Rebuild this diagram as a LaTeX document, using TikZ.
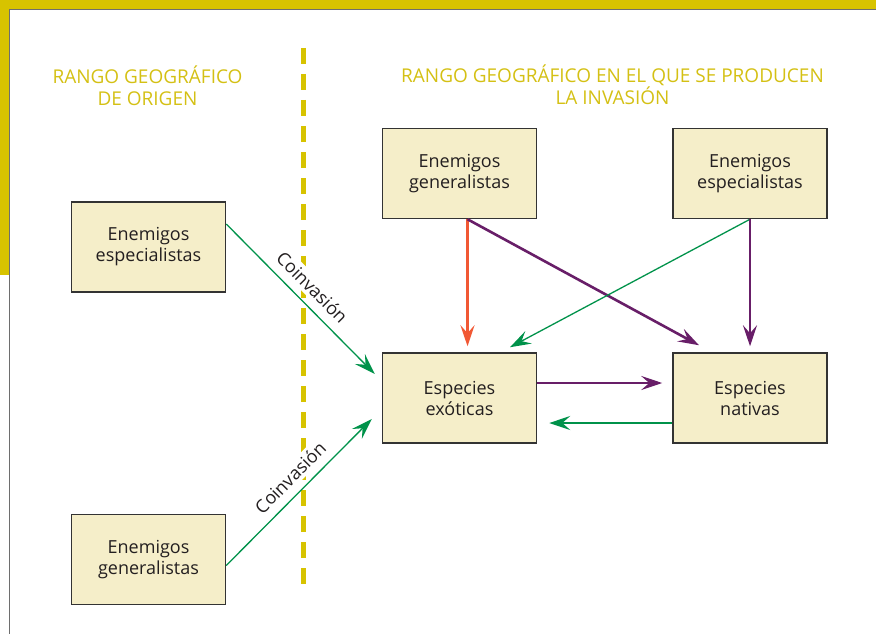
\documentclass[tikz,border=0pt]{standalone}
\usepackage{fontspec}
\setmainfont{Open Sans}
\usetikzlibrary{arrows.meta,positioning,calc}
\definecolor{bandyellow}{RGB}{215,195,0}
\definecolor{titleyellow}{RGB}{212,192,20}
\definecolor{boxfill}{RGB}{245,238,201}
\definecolor{boxline}{RGB}{51,51,51}
\definecolor{textgray}{RGB}{35,31,32}
\definecolor{framegray}{RGB}{110,110,110}
\definecolor{arrowgreen}{RGB}{0,146,74}
\definecolor{arrowpurple}{RGB}{104,30,104}
\definecolor{arrowred}{RGB}{241,88,52}
\tikzset{
    %Define standard arrow tip
    >={Stealth[length=21pt,width=14pt,inset=8pt]},
    %Define style for boxes
    box/.style={
           rectangle,
           draw=boxline, line width=1.5pt,
           minimum width=154pt,
           minimum height=90pt,
           inner sep=0pt,
           font=\fontsize{18}{21}\selectfont,
           text=textgray,
           align=center,
           fill=boxfill},
    title/.style={
           anchor=south,
           inner sep=0pt,
           text depth=0pt,
           font=\fontsize{19}{22}\selectfont,
           text=titleyellow,
           align=center},
    % Define arrow style
    greenline/.style={
           ->,
           draw=arrowgreen,
           line width=1.3pt},
    purpleline/.style={
           ->,
           draw=arrowpurple,
           line width=2.6pt},
    redline/.style={
           ->,
           draw=arrowred,
           line width=2.6pt},
    coin/.style={
           sloped,
           above=6pt,
           fill=white,
           inner sep=3pt,
           font=\fontsize{18}{21}\selectfont,
           text=textgray},
    divider/.style={
           draw=bandyellow,
           line width=5pt,
           dash pattern=on 16pt off 10pt}
}
\begin{document}
\begin{tikzpicture}[x=1pt,y=-1pt,node distance=1cm]
\useasboundingbox (0,0) rectangle (876,634);

 %frame
\fill[bandyellow] (0,0) rectangle (876,9.5);
\fill[bandyellow] (0,0) rectangle (9,275);
\draw[framegray,line width=1pt] (9.5,634) -- (9.5,10) -- (876,10);

 %titles
\node[title] (t1) at (147.5,106) {RANGO GEOGRÁFICO\\DE ORIGEN};
\node[title] (t2) at (612.5,105) {RANGO GEOGRÁFICO EN EL QUE SE PRODUCEN\\LA INVASIÓN};

 %border of the ranges
\coordinate (d1) at (303.5,48);
\coordinate (d2) at (303.5,585);
\draw[divider] (d1) -- (d2);

 %nodes
\node[box] (5) at (459.5,398) {Especies\\exóticas};
\node[box, right=135pt of 5] (6) {Especies\\nativas};
\node[box, above=133pt of 5] (3) {Enemigos\\generalistas};
\node[box, above=133pt of 6] (4) {Enemigos\\especialistas};
\node[box] (1) at (148.5,247) {Enemigos\\especialistas};
\node[box] (2) at (148.5,559.5) {Enemigos\\generalistas};

\path
    ($(1.east)+(0,-23)$) edge[greenline] node[coin,pos=0.5]{Coinvasión} ($(5.west)+(-7,-24)$)
    ($(2.east)+(0,6)$) edge[greenline] node[coin,pos=0.52]{Coinvasión} ($(5.west)+(-10,21)$)
    ($(3.south)+(8,0)$) edge[redline] ($(5.north)+(8,-6)$)
    ($(3.south)+(8,0)$) edge[purpleline] ($(6.north)+(-51,-7)$)
    (4.south) edge[greenline] ($(5.north)+(50.5,-5)$)
    (4.south) edge[purpleline] ($(6.north)+(0,-6)$)
    ($(5.east)+(0,-15)$) edge[purpleline] ($(6.west)+(-10,-15)$)
    ($(6.west)+(0,25)$) edge[greenline] ($(5.east)+(12,25)$);

\end{tikzpicture}
\end{document}
